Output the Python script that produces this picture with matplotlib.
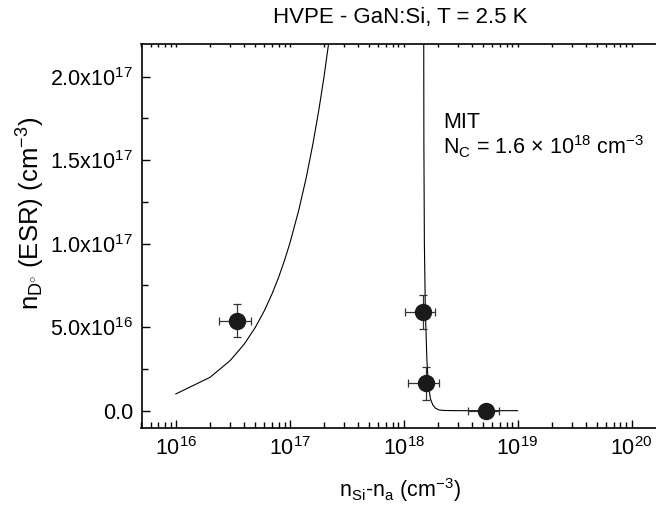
import matplotlib
matplotlib.use("Agg")
import matplotlib.pyplot as plt
from matplotlib.ticker import FixedLocator, LogLocator, NullFormatter

plt.rcParams['font.family'] = ['Liberation Sans', 'DejaVu Sans']
plt.rcParams['mathtext.fontset'] = 'custom'
plt.rcParams['mathtext.rm'] = 'Liberation Sans'
plt.rcParams['mathtext.it'] = 'Liberation Sans:italic'
plt.rcParams['mathtext.bf'] = 'Liberation Sans:bold'

# ---- data ----
pt_x = [3.43e16, 1.48e18, 1.58e18, 5.24e18]
pt_y = [5.4e16, 5.9e16, 1.64e16, 0.0]
pt_xerr_lo = [1.05e16, 0.45e18, 0.48e18, 1.57e18]
pt_xerr_hi = [1.12e16, 0.42e18, 0.48e18, 1.57e18]
pt_yerr_lo = [0.96e16, 1.0e16, 1.0e16, 0.0]
pt_yerr_hi = [0.96e16, 1.0e16, 1.0e16, 0.0]

left_curve_x = [1e16, 2e16, 3e16, 4e16, 5e16, 6e16, 7e16, 8e16, 9e16,
                1.0e17, 1.2e17, 1.4e17, 1.6e17, 1.8e17, 2.0e17, 2.3e17]
left_curve_y = [1e16, 2e16, 3e16, 4e16, 5e16, 6e16, 7e16, 8e16, 9e16,
                1.0e17, 1.2e17, 1.4e17, 1.6e17, 1.8e17, 2.0e17, 2.3e17]

right_curve_x = [1.500e18, 1.505e18, 1.52e18, 1.55e18, 1.60e18, 1.65e18,
                 1.72e18, 1.80e18, 1.90e18, 2.05e18, 2.3e18, 3.0e18, 1.0e19]
right_curve_y = [2.3e17, 1.6e17, 1.0e17, 6.0e16, 3.0e16, 1.5e16,
                 7.0e15, 3.5e15, 1.5e15, 4.0e14, 1.0e14, 0.0, 0.0]

y_ticks = [0.0, 5.0e16, 1.0e17, 1.5e17, 2.0e17]
y_ticklabels = ['0.0', r'5.0x10$^{16}$', r'1.0x10$^{17}$', r'1.5x10$^{17}$', r'2.0x10$^{17}$']
y_minor = [2.5e16, 7.5e16, 1.25e17, 1.75e17]
x_ticks = [1e16, 1e17, 1e18, 1e19, 1e20]
x_ticklabels = [r'10$^{16}$', r'10$^{17}$', r'10$^{18}$', r'10$^{19}$', r'10$^{20}$']

title = 'HVPE - GaN:Si, T = 2.5 K'
xlabel = r'n$_{\mathregular{Si}}$-n$_{\mathregular{a}}$ (cm$^{\mathregular{-3}}$)'
ylabel = r'n$_{\mathregular{D}^{\circ}}$ (ESR) (cm$^{\mathregular{-3}}$)'

# ---- figure ----
fig = plt.figure(figsize=(6.56, 5.07), dpi=100)
ax = fig.add_axes([141.5/656, 1-427.7/507, 1-141.5/656, (427.7-44)/507])

ax.plot(left_curve_x, left_curve_y, color='black', lw=0.8)
ax.plot(right_curve_x, right_curve_y, color='black', lw=0.8)
ax.errorbar(pt_x, pt_y, xerr=[pt_xerr_lo, pt_xerr_hi], yerr=[pt_yerr_lo, pt_yerr_hi],
            fmt='o', color='#1a1a1a', ms=11.5, ecolor='#333333', elinewidth=0.9,
            capsize=3, capthick=0.9, zorder=3)

ax.set_xscale('log')
ax.set_xlim(5e15, 1.64e20)
ax.set_ylim(-1.02e16, 2.196e17)

ax.xaxis.set_major_locator(FixedLocator(x_ticks))
ax.set_xticklabels(x_ticklabels)
ax.xaxis.set_minor_locator(LogLocator(base=10, subs=[2, 3, 4, 5, 6, 7, 8, 9], numticks=20))
ax.xaxis.set_minor_formatter(NullFormatter())
ax.set_yticks(y_ticks)
ax.set_yticklabels(y_ticklabels)
ax.set_yticks(y_minor, minor=True)

ax.spines['right'].set_visible(False)
for s in ['left', 'bottom', 'top']:
    ax.spines[s].set_linewidth(1.2)

ax.tick_params(axis='both', which='major', direction='in', length=6, width=1.0,
               labelsize=15.5, pad=6)
ax.tick_params(axis='both', which='minor', direction='in', length=4, width=1.0)
ax.tick_params(axis='x', which='both', top=True)
ax.tick_params(axis='y', which='both', right=False)
ax.tick_params(axis='x', which='major', pad=7)

# shorter ticks at top
for t in ax.xaxis.get_major_ticks() + ax.xaxis.get_minor_ticks():
    t.tick2line.set_markersize(2)

ax.set_xlabel(xlabel, fontsize=15.5)
ax.xaxis.set_label_coords(0.503, -0.162)
ax.xaxis.label.set_va('center')
ax.set_ylabel(ylabel, fontsize=18.5)
ax.yaxis.set_label_coords(-0.215, 0.557)
ax.yaxis.label.set_va('center')

fig.text(400/656, 1-18/507, title, ha='center', va='center', fontsize=16)

ax.text(0.586, 0.780, 'MIT', transform=ax.transAxes, fontsize=15.5, va='baseline')
ax.text(0.586, 0.711, r'N$_{\mathregular{C}}$ = 1.6 $\times$ 10$^{\mathregular{18}}$ cm$^{\mathregular{-3}}$',
        transform=ax.transAxes, fontsize=15.5, va='baseline')

fig.savefig('out.png', dpi=100)
